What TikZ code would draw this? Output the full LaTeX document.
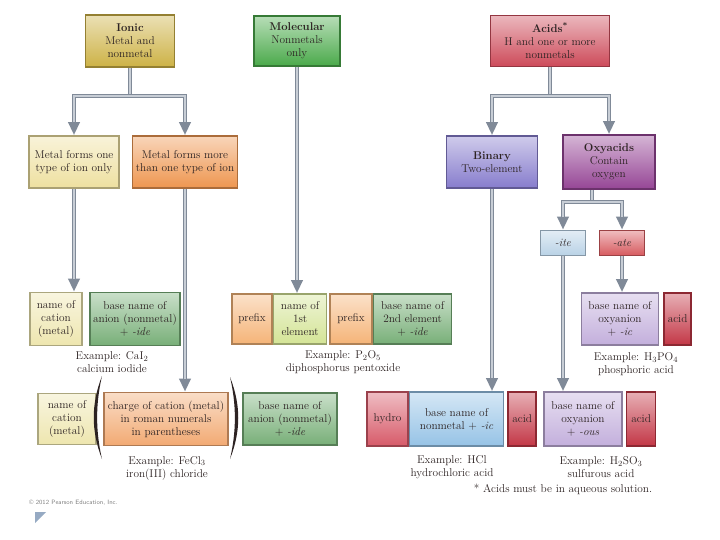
\documentclass[tikz,border=0pt]{standalone}
\usetikzlibrary{arrows.meta,positioning}
\begin{document}
\begin{tikzpicture}[x=1pt, y=-1pt,
    namebox/.style={draw=#1!72!black, line width=1.6pt, top color=#1!40!white, bottom color=#1,
        text=textdark, align=center, inner sep=1pt, font=\fontsize{11.3}{13}\selectfont},
    exlabel/.style={align=center, text=textdark, inner sep=1pt, font=\fontsize{11.3}{13}\selectfont},
    flowline/.style={draw=arrowgray, line width=3.5pt, postaction={draw=arrowlight, line width=1.1pt}},
    flow/.style={draw=arrowgray, line width=3.5pt, -{Triangle[width=11pt,length=13pt]},
        postaction={draw=arrowlight, line width=1.1pt, -, shorten >=13pt}}]
    % Define colors
    \definecolor{textdark}{RGB}{45, 35, 35}
    \definecolor{arrowgray}{RGB}{128, 138, 152}
    \definecolor{arrowlight}{RGB}{200, 206, 214}
    \definecolor{ioniccol}{RGB}{205, 178, 70}
    \definecolor{molcol}{RGB}{75, 170, 75}
    \definecolor{acidscol}{RGB}{205, 75, 90}
    \definecolor{onecol}{RGB}{238, 224, 160}
    \definecolor{morecol}{RGB}{238, 150, 80}
    \definecolor{binarycol}{RGB}{135, 125, 205}
    \definecolor{oxycol}{RGB}{150, 70, 150}
    \definecolor{itecol}{RGB}{185, 210, 230}
    \definecolor{atecol}{RGB}{215, 90, 95}
    \definecolor{cationcol}{RGB}{238, 230, 175}
    \definecolor{anioncol}{RGB}{120, 175, 120}
    \definecolor{prefixcol}{RGB}{245, 180, 120}
    \definecolor{firstcol}{RGB}{212, 228, 150}
    \definecolor{oxyanioncol}{RGB}{195, 175, 220}
    \definecolor{acidcol}{RGB}{195, 55, 70}
    \definecolor{hydrocol}{RGB}{215, 90, 105}
    \definecolor{nonmetalcol}{RGB}{150, 195, 230}
    \definecolor{chargecol}{RGB}{242, 170, 115}
    \definecolor{iconcol}{RGB}{150, 170, 195}

    \useasboundingbox (0, 0) rectangle (720, 540);

    % Define y-coordinates for each row
    \def\yTop{41}
    \def\yKind{162}
    \def\ySuffix{243}
    \def\yRowA{319}
    \def\yRowB{419}

    % Top level: the three kinds of compounds
    \node[namebox=ioniccol, minimum width=89, minimum height=52] (ionic) at (130, \yTop)
        {\textbf{Ionic}\\Metal and\\nonmetal};
    \node[namebox=molcol, minimum width=86, minimum height=50] (molecular) at (297, \yTop)
        {\textbf{Molecular}\\Nonmetals\\only};
    \node[namebox=acidscol, minimum width=119, minimum height=51] (acids) at (550, \yTop)
        {\textbf{Acids\textsuperscript{*}}\\H and one or more\\nonmetals};

    % Second level
    \node[namebox=onecol, minimum width=90, minimum height=52] (metalone) at (74, \yKind)
        {Metal forms one\\type of ion only};
    \node[namebox=morecol, minimum width=105, minimum height=52] (metalmore) at (185, \yKind)
        {Metal forms more\\than one type of ion};
    \node[namebox=binarycol, minimum width=91, minimum height=52] (binary) at (492, \yKind)
        {\textbf{Binary}\\Two-element};
    \node[namebox=oxycol, minimum width=92, minimum height=54] (oxyacids) at (609, \yKind)
        {\textbf{Oxyacids}\\Contain\\oxygen};

    % Suffixes of the oxyanion
    \node[namebox=itecol, minimum width=45, minimum height=25] (ite) at (563, \ySuffix) {\textit{-ite}};
    \node[namebox=atecol, minimum width=45, minimum height=25] (ate) at (622, \ySuffix) {\textit{-ate}};

    % First row of name patterns
    \node[namebox=cationcol, minimum width=52, minimum height=53] (cationA) at (56, \yRowA)
        {name of\\cation\\(metal)};
    \node[namebox=anioncol, minimum width=90, minimum height=53] (anionA) at (135, \yRowA)
        {base name of\\anion (nonmetal)\\+ \textit{-ide}};
    \node[namebox=prefixcol, minimum width=40, minimum height=50] (prefixA) at (252, \yRowA) {prefix};
    \node[namebox=firstcol, minimum width=53, minimum height=50, right=0pt of prefixA] (firstel)
        {name of\\1st\\element};
    \node[namebox=prefixcol, minimum width=42, minimum height=50] (prefixB) at (351, \yRowA) {prefix};
    \node[namebox=anioncol, minimum width=78, minimum height=50, right=0pt of prefixB] (secondel)
        {base name of\\2nd element\\+ \textit{-ide}};
    \node[namebox=oxyanioncol, minimum width=77, minimum height=52] (oxyic) at (620, \yRowA)
        {base name of\\oxyanion\\+ \textit{-ic}};
    \node[namebox=acidcol, minimum width=27, minimum height=52, right=4pt of oxyic] (acidA) {acid};

    % Second row of name patterns
    \node[namebox=cationcol, minimum width=58, minimum height=51] (cationB) at (67, \yRowB)
        {name of\\cation\\(metal)};
    \node[namebox=chargecol, minimum width=124, minimum height=53] (charge) at (166, \yRowB)
        {charge of cation (metal)\\in roman numerals\\in parentheses};
    \node[namebox=anioncol, minimum width=94, minimum height=52] (anionB) at (290, \yRowB)
        {base name of\\anion (nonmetal)\\+ \textit{-ide}};
    \node[namebox=hydrocol, minimum width=41, minimum height=54] (hydro) at (387.5, \yRowB) {hydro};
    \node[namebox=nonmetalcol, minimum width=94, minimum height=54, right=0pt of hydro] (nonmetal)
        {base name of\\nonmetal + \textit{-ic}};
    \node[namebox=acidcol, minimum width=28, minimum height=54, right=3pt of nonmetal] (acidB) {acid};
    \node[namebox=oxyanioncol, minimum width=78, minimum height=54] (oxyous) at (583, \yRowB)
        {base name of\\oxyanion\\+ \textit{-ous}};
    \node[namebox=acidcol, minimum width=29, minimum height=54, right=3pt of oxyous] (acidC) {acid};

    % Big parentheses round the charge
    \coordinate (parLtop) at (102, 376);
    \coordinate (parLbot) at (102, 459);
    \coordinate (parRtop) at (230, 377);
    \coordinate (parRbot) at (230, 459);
    \fill[textdark] (parLtop) .. controls (91, 404) and (91, 431) .. (parLbot)
        .. controls (95.5, 431) and (95.5, 404) .. (parLtop);
    \fill[textdark] (parRtop) .. controls (241, 405) and (241, 431) .. (parRbot)
        .. controls (236.5, 431) and (236.5, 405) .. (parRtop);

    % Examples
    \node[exlabel] (exCaI) at (112, 362) {Example: CaI$_2$\\calcium iodide};
    \node[exlabel] (exPO) at (343, 362) {Example: P$_2$O$_5$\\diphosphorus pentoxide};
    \node[exlabel] (exHPO) at (636, 364) {Example: H$_3$PO$_4$\\phosphoric acid};
    \node[exlabel] (exFeCl) at (167, 468) {Example: FeCl$_3$\\iron(III) chloride};
    \node[exlabel] (exHCl) at (452, 467) {Example: HCl\\hydrochloric acid};
    \node[exlabel] (exHSO) at (601, 467) {Example: H$_2$SO$_3$\\sulfurous acid};
    \node[exlabel] (footnote) at (563, 489) {* Acids must be in aqueous solution.};

    % Split points of the branching arrows
    \coordinate (ionicsplit) at (130, 96);
    \coordinate (acidsplit) at (550, 96);
    \coordinate (oxysplit) at (592, 202);

    % Arrows from the ionic box
    \draw[flowline] (ionic.south) -- (ionicsplit);
    \draw[flow] (ionicsplit) -| (metalone.north);
    \draw[flow] (ionicsplit) -| (metalmore.north);
    \draw[flow] (metalone.south) -- (metalone.south |- cationA.north);
    \draw[flow] (metalmore.south) -- (metalmore.south |- charge.north);

    % Arrow from the molecular box
    \draw[flow] (molecular.south) -- (molecular.south |- firstel.north);

    % Arrows from the acids box
    \draw[flowline] (acids.south) -- (acidsplit);
    \draw[flow] (acidsplit) -| (binary.north);
    \draw[flow] (acidsplit) -| (oxyacids.north);
    \draw[flow] (binary.south) -- (binary.south |- nonmetal.north);
    \draw[flowline] (oxysplit |- oxyacids.south) -- (oxysplit);
    \draw[flow] (oxysplit) -| (ite.north);
    \draw[flow] (oxysplit) -| (ate.north);
    \draw[flow] (ite.south) -- (ite.south |- oxyous.north);
    \draw[flow] (ate.south) -- (ate.south |- oxyic.north);

    % Credit line and slide icon
    \node[anchor=west, inner sep=0pt, text=gray, font=\sffamily\fontsize{6.3}{7}\selectfont] (credit)
        at (29, 503) {\textcopyright\ 2012 Pearson Education, Inc.};
    \fill[iconcol] (35, 512) -- (46, 512) -- (35, 523) -- cycle;

\end{tikzpicture}
\end{document}
